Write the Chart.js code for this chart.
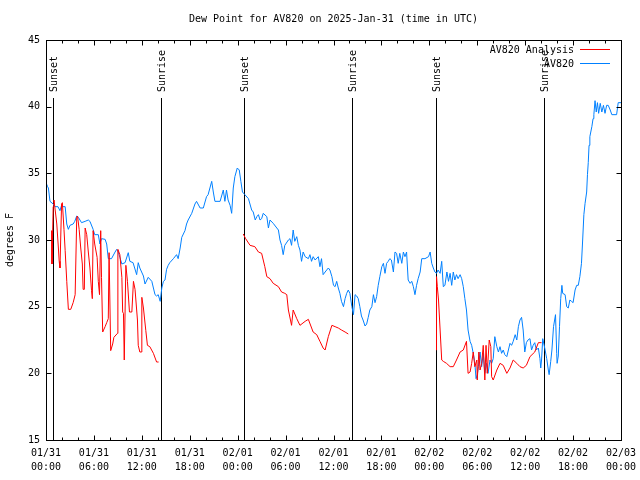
<!DOCTYPE html>
<html><head><meta charset="utf-8">
<script src="https://cdn.jsdelivr.net/npm/chart.js@4/dist/chart.umd.min.js"></script>
<style>html,body{margin:0;padding:0;background:#fff;}canvas{display:block;}</style>
</head><body>
<canvas id="c" width="640" height="480"></canvas>
<script>
const titleText = "Dew Point for AV820 on 2025-Jan-31 (time in UTC)";
const yAxisTitle = "degrees F";
const seriesNames = ["AV820 Analysis", "AV820"];
const seriesColors = ["#ff0000", "#0080ff"];
const tickLabels = [["01/31","00:00"],["01/31","06:00"],["01/31","12:00"],["01/31","18:00"],
  ["02/01","00:00"],["02/01","06:00"],["02/01","12:00"],["02/01","18:00"],
  ["02/02","00:00"],["02/02","06:00"],["02/02","12:00"],["02/02","18:00"],["02/03","00:00"]];
const sunHours = [0.88, 14.4, 24.8, 38.3, 48.85, 62.35];
const sunLabels = ["Sunset","Sunrise","Sunset","Sunrise","Sunset","Sunrise"];

// hours since 01/31 00:00 UTC, dew point (F)
const observed = [[0.0,34.3],[0.2,34.0],[0.3,33.9],[0.5,32.9],[0.9,32.7],[1.1,32.5],[1.5,32.5],[1.75,32.2],[1.95,32.6],[2.1,32.5],[2.4,32.5],[2.6,31.2],[2.8,30.8],[3.0,31.1],[3.4,31.2],[3.6,31.4],[3.85,31.8],[4.05,31.7],[4.45,31.3],[4.9,31.4],[5.3,31.5],[5.5,31.4],[5.9,30.8],[6.1,30.4],[6.55,30.4],[6.75,29.7],[6.95,30.1],[7.4,30.05],[7.6,29.7],[7.8,28.6],[8.2,28.6],[8.65,29.1],[8.85,29.3],[9.05,29.1],[9.25,28.7],[9.5,28.2],[9.9,28.3],[10.3,29.05],[10.5,28.4],[10.9,28.3],[11.35,27.4],[11.55,28.3],[11.75,27.9],[12.2,27.3],[12.4,26.7],[12.8,27.2],[13.25,26.9],[13.65,25.9],[13.85,25.8],[14.05,25.9],[14.3,25.4],[14.5,26.4],[14.7,26.9],[14.9,27.0],[15.1,27.8],[15.3,28.1],[15.5,28.3],[15.95,28.6],[16.35,28.9],[16.55,28.6],[16.8,29.4],[17.0,30.2],[17.4,30.7],[17.6,31.2],[17.8,31.5],[18.25,32.0],[18.65,32.7],[18.85,32.9],[19.3,32.4],[19.7,32.4],[20.1,33.25],[20.3,33.4],[20.75,34.4],[20.95,33.6],[21.15,32.9],[21.8,32.9],[22.2,33.75],[22.4,32.9],[22.6,33.75],[22.8,33.0],[23.05,32.6],[23.25,32.0],[23.45,33.9],[23.65,34.75],[23.95,35.4],[24.2,35.25],[24.4,34.4],[24.6,33.6],[24.9,33.4],[25.35,33.1],[25.75,32.25],[25.95,32.1],[26.2,31.5],[26.4,31.75],[26.6,31.9],[26.8,31.5],[27.0,31.6],[27.2,32.0],[27.65,31.75],[27.85,30.9],[28.05,31.5],[28.45,31.25],[28.9,30.9],[29.1,30.75],[29.3,30.0],[29.5,29.6],[29.7,28.9],[29.9,29.6],[30.35,30.0],[30.55,30.1],[30.75,29.6],[30.95,30.75],[31.15,29.9],[31.4,30.25],[31.6,29.6],[31.8,29.25],[32.0,28.4],[32.2,29.1],[32.45,28.75],[32.85,28.6],[33.05,28.9],[33.25,28.4],[33.45,28.75],[33.7,28.5],[34.1,28.75],[34.3,28.0],[34.5,28.6],[34.7,27.4],[34.95,27.6],[35.15,27.75],[35.35,27.9],[35.55,27.75],[35.8,27.25],[36.0,26.6],[36.2,26.5],[36.4,26.9],[36.6,26.4],[36.8,26.0],[37.0,25.4],[37.25,25.0],[37.45,25.6],[37.65,26.0],[37.85,26.25],[38.05,26.0],[38.3,25.0],[38.5,24.4],[38.7,25.9],[38.9,25.8],[39.1,25.6],[39.3,25.0],[39.5,24.3],[39.7,24.0],[39.95,23.55],[40.15,23.7],[40.35,24.2],[40.55,24.75],[40.8,25.0],[41.0,25.9],[41.2,25.3],[41.4,25.75],[41.6,26.6],[41.8,27.25],[42.05,28.0],[42.25,28.25],[42.45,27.5],[42.65,28.25],[42.85,28.4],[43.05,28.6],[43.25,28.5],[43.5,27.6],[43.7,29.1],[43.9,29.0],[44.1,28.25],[44.3,29.0],[44.55,28.25],[44.75,29.1],[44.95,28.75],[45.15,29.1],[45.35,27.0],[45.6,26.75],[45.8,26.9],[46.0,26.5],[46.2,25.9],[46.4,26.6],[46.6,27.1],[46.85,27.6],[47.05,28.6],[47.45,28.6],[47.9,28.75],[48.1,29.1],[48.3,28.25],[48.5,27.9],[48.7,27.6],[48.9,27.5],[49.1,27.75],[49.35,27.5],[49.55,28.4],[49.75,26.5],[49.95,26.6],[50.2,27.6],[50.4,26.9],[50.6,27.5],[50.8,26.6],[51.0,27.6],[51.2,27.0],[51.4,27.4],[51.6,27.1],[51.85,27.4],[52.05,27.1],[52.25,26.5],[52.45,25.6],[52.65,24.75],[52.85,23.25],[53.1,22.4],[53.3,22.1],[53.5,21.5],[53.7,20.75],[53.85,19.6],[54.0,19.9],[54.15,20.5],[54.35,21.6],[54.55,20.5],[54.75,21.5],[54.95,20.0],[55.15,20.75],[55.35,20.0],[55.6,21.0],[55.8,20.75],[56.0,21.1],[56.2,22.75],[56.45,22.0],[56.65,21.6],[56.85,22.0],[57.05,21.5],[57.25,21.75],[57.45,21.4],[57.7,21.25],[57.9,21.75],[58.1,22.25],[58.3,22.1],[58.5,22.4],[58.75,22.9],[58.95,22.5],[59.15,23.5],[59.35,24.0],[59.55,24.2],[59.75,23.25],[59.95,21.6],[60.15,22.3],[60.35,22.5],[60.6,22.6],[60.8,21.75],[61.0,22.1],[61.2,22.3],[61.4,21.75],[61.65,21.9],[61.85,21.1],[61.95,20.4],[62.05,21.0],[62.2,22.6],[62.45,21.9],[62.7,21.1],[62.9,20.25],[63.0,19.9],[63.2,20.9],[63.35,21.75],[63.55,23.5],[63.8,24.4],[63.95,21.5],[64.0,20.75],[64.15,21.3],[64.3,23.5],[64.45,25.6],[64.6,26.6],[64.7,26.0],[65.0,25.9],[65.2,25.0],[65.4,24.9],[65.6,25.5],[65.8,25.4],[66.0,25.3],[66.25,26.25],[66.45,26.6],[66.65,26.6],[66.85,27.25],[67.05,28.25],[67.2,30.0],[67.35,31.9],[67.5,32.75],[67.7,33.6],[67.8,34.9],[67.9,35.8],[68.0,37.1],[68.1,37.75],[68.35,38.5],[68.5,39.1],[68.6,39.4],[68.75,40.45],[68.9,39.6],[69.05,40.3],[69.2,39.5],[69.4,40.25],[69.6,39.6],[69.8,40.1],[70.0,39.5],[70.2,40.1],[70.4,40.1],[70.65,39.75],[70.85,39.4],[71.45,39.4],[71.65,40.3],[72.0,40.3]];

const analysis = [[0.7,30.7],[0.75,28.2],[0.9,32.5],[1.0,33.0],[1.1,32.5],[1.35,31.2],[1.55,29.4],[1.65,28.4],[1.75,27.9],[1.85,30.3],[1.95,32.7],[2.05,32.8],[2.25,30.8],[2.4,29.2],[2.6,26.9],[2.8,24.8],[3.1,24.8],[3.4,25.3],[3.65,25.9],[3.85,31.7],[3.95,31.8],[4.15,30.8],[4.35,29.4],[4.55,28.2],[4.65,26.3],[4.8,26.3],[4.9,30.9],[5.1,30.4],[5.3,29.1],[5.5,27.9],[5.7,26.2],[5.8,25.6],[5.9,30.7],[6.1,29.7],[6.4,28.7],[6.55,26.9],[6.7,25.9],[6.85,30.7],[6.95,27.2],[7.1,23.1],[7.4,23.5],[7.6,23.8],[7.8,24.1],[7.9,29.05],[8.1,21.7],[8.35,22.2],[8.5,22.7],[8.95,23.0],[9.0,29.3],[9.25,28.9],[9.5,27.2],[9.6,24.6],[9.7,24.5],[9.8,21.0],[10.0,28.1],[10.2,26.9],[10.45,24.6],[10.75,24.6],[10.95,26.9],[11.15,26.3],[11.45,24.0],[11.55,22.1],[11.75,21.6],[11.95,21.6],[12.0,25.7],[12.2,24.9],[12.5,23.2],[12.7,22.1],[13.0,22.0],[13.45,21.5],[13.85,20.85],[14.1,20.85],
  [19.0,null],
  [24.7,30.45],[25.0,30.1],[25.55,29.6],[26.15,29.5],[26.6,29.1],[27.0,29.0],[27.4,28.0],[27.65,27.25],[28.05,27.1],[28.45,26.75],[29.1,26.5],[29.5,26.1],[29.9,26.0],[30.15,25.9],[30.35,24.75],[30.75,23.6],[30.95,24.75],[31.4,24.1],[31.8,23.6],[32.45,23.9],[32.85,24.05],[33.45,23.1],[33.9,22.9],[34.3,22.4],[34.7,21.9],[34.95,21.75],[35.35,22.75],[35.8,23.6],[36.2,23.5],[36.6,23.4],[37.0,23.25],[37.45,23.1],[37.85,22.95],
  [43.0,null],
  [48.85,21.75],[48.9,27.25],[49.0,26.5],[49.15,25.5],[49.35,23.25],[49.55,21.0],[49.75,20.9],[50.15,20.75],[50.6,20.5],[51.0,20.5],[51.4,21.0],[51.85,21.6],[52.25,21.75],[52.65,22.4],[52.85,20.0],[53.1,20.1],[53.3,20.75],[53.5,21.6],[53.7,20.5],[53.95,21.0],[54.0,19.5],[54.2,21.6],[54.35,20.25],[54.55,20.75],[54.75,22.1],[54.95,19.5],[55.1,22.1],[55.25,20.0],[55.5,22.5],[55.7,22.0],[55.8,19.75],[56.0,19.5],[56.45,20.25],[56.85,20.75],[57.25,20.6],[57.7,20.0],[58.1,20.4],[58.5,21.0],[58.95,20.75],[59.35,20.5],[59.75,20.4],[60.15,20.6],[60.6,21.25],[61.2,21.6],[61.65,22.3],[62.05,22.3]];

const FONT = '"DejaVu Sans Mono", "Liberation Mono", monospace';
Chart.defaults.font.family = FONT;
Chart.defaults.font.size = 10;
Chart.defaults.color = '#000';

const toXY = arr => arr.map(p => ({x: p[0], y: p[1]}));

const deco = {
  id: 'deco',
  beforeDatasetsDraw(chart) {
    const {ctx, chartArea: a, scales: {x}} = chart;
    ctx.save();
    ctx.strokeStyle = '#000';
    ctx.fillStyle = '#000';
    ctx.lineWidth = 1;
    ctx.font = '10px ' + FONT;
    sunHours.forEach((h, i) => {
      const px = Math.round(x.getPixelForValue(h)) + 0.5;
      ctx.beginPath();
      ctx.moveTo(px, a.top + 58);
      ctx.lineTo(px, a.bottom);
      ctx.stroke();
      ctx.save();
      ctx.translate(px + 0.5, a.top + 52);
      ctx.rotate(-Math.PI / 2);
      ctx.textAlign = 'left';
      ctx.textBaseline = 'middle';
      ctx.fillText(sunLabels[i], 0, 0);
      ctx.restore();
    });
    ctx.restore();
  },
  afterDraw(chart) {
    const {ctx, chartArea: a, scales: {x, y}} = chart;
    ctx.save();
    ctx.strokeStyle = '#000';
    ctx.lineWidth = 1;
    const L = Math.round(a.left) + 0.5, R = Math.round(a.right) + 0.5;
    const T = Math.round(a.top) + 0.5, B = Math.round(a.bottom) + 0.5;
    ctx.strokeRect(L, T, R - L, B - T);
    ctx.beginPath();
    for (let h = 0; h <= 72; h += 2) {
      const px = Math.round(x.getPixelForValue(h)) + 0.5;
      const len = (h % 6 === 0) ? 5 : 3;
      ctx.moveTo(px, B); ctx.lineTo(px, B - len);
      ctx.moveTo(px, T); ctx.lineTo(px, T + len);
    }
    for (let v = 15; v <= 45; v += 5) {
      const py = Math.round(y.getPixelForValue(v)) + 0.5;
      ctx.moveTo(L, py); ctx.lineTo(L + 5, py);
      ctx.moveTo(R, py); ctx.lineTo(R - 5, py);
    }
    ctx.stroke();
    // title
    ctx.fillStyle = '#000';
    ctx.font = '10px ' + FONT;
    ctx.textAlign = 'center';
    ctx.textBaseline = 'middle';
    ctx.fillText(titleText, (a.left + a.right) / 2, 19);
    // legend
    ctx.textAlign = 'right';
    seriesNames.forEach((n, i) => {
      const ly = Math.round(a.top + 10 + i * 14);
      ctx.fillStyle = '#000';
      ctx.fillText(n, a.right - 47, ly);
      ctx.strokeStyle = seriesColors[i];
      ctx.beginPath();
      ctx.moveTo(a.right - 41, ly - 0.5);
      ctx.lineTo(a.right - 11, ly - 0.5);
      ctx.stroke();
    });
    ctx.restore();
  }
};

new Chart(document.getElementById('c'), {
  type: 'line',
  data: {
    datasets: [
      {label: seriesNames[0], data: toXY(analysis), borderColor: seriesColors[0], borderWidth: 1,
       pointRadius: 0, tension: 0, spanGaps: false, fill: false},
      {label: seriesNames[1], data: toXY(observed), borderColor: seriesColors[1], borderWidth: 1,
       pointRadius: 0, tension: 0, spanGaps: false, fill: false}
    ]
  },
  options: {
    responsive: false,
    animation: false,
    events: [],
    layout: {padding: {top: 40, right: 19, left: 0, bottom: 0}},
    plugins: {legend: {display: false}, title: {display: false}, tooltip: {enabled: false}},
    scales: {
      x: {
        type: 'linear', min: 0, max: 72,
        grid: {display: false, drawTicks: false},
        border: {display: false},
        ticks: {stepSize: 6, autoSkip: false, maxRotation: 0, padding: 6,
          font: {size: 10, lineHeight: 1.4},
          callback: v => tickLabels[Math.round(v / 6)]},
        afterFit: s => { s.height = 40; s.paddingLeft = 0; s.paddingRight = 0; }
      },
      y: {
        type: 'linear', min: 15, max: 45,
        grid: {display: false, drawTicks: false},
        border: {display: false},
        ticks: {stepSize: 5, padding: 6},
        title: {display: true, text: yAxisTitle, padding: {top: 4, bottom: 0}},
        afterFit: s => { s.width = 46; s.paddingTop = 0; s.paddingBottom = 0; }
      }
    }
  },
  plugins: [deco]
});
</script>
</body></html>
